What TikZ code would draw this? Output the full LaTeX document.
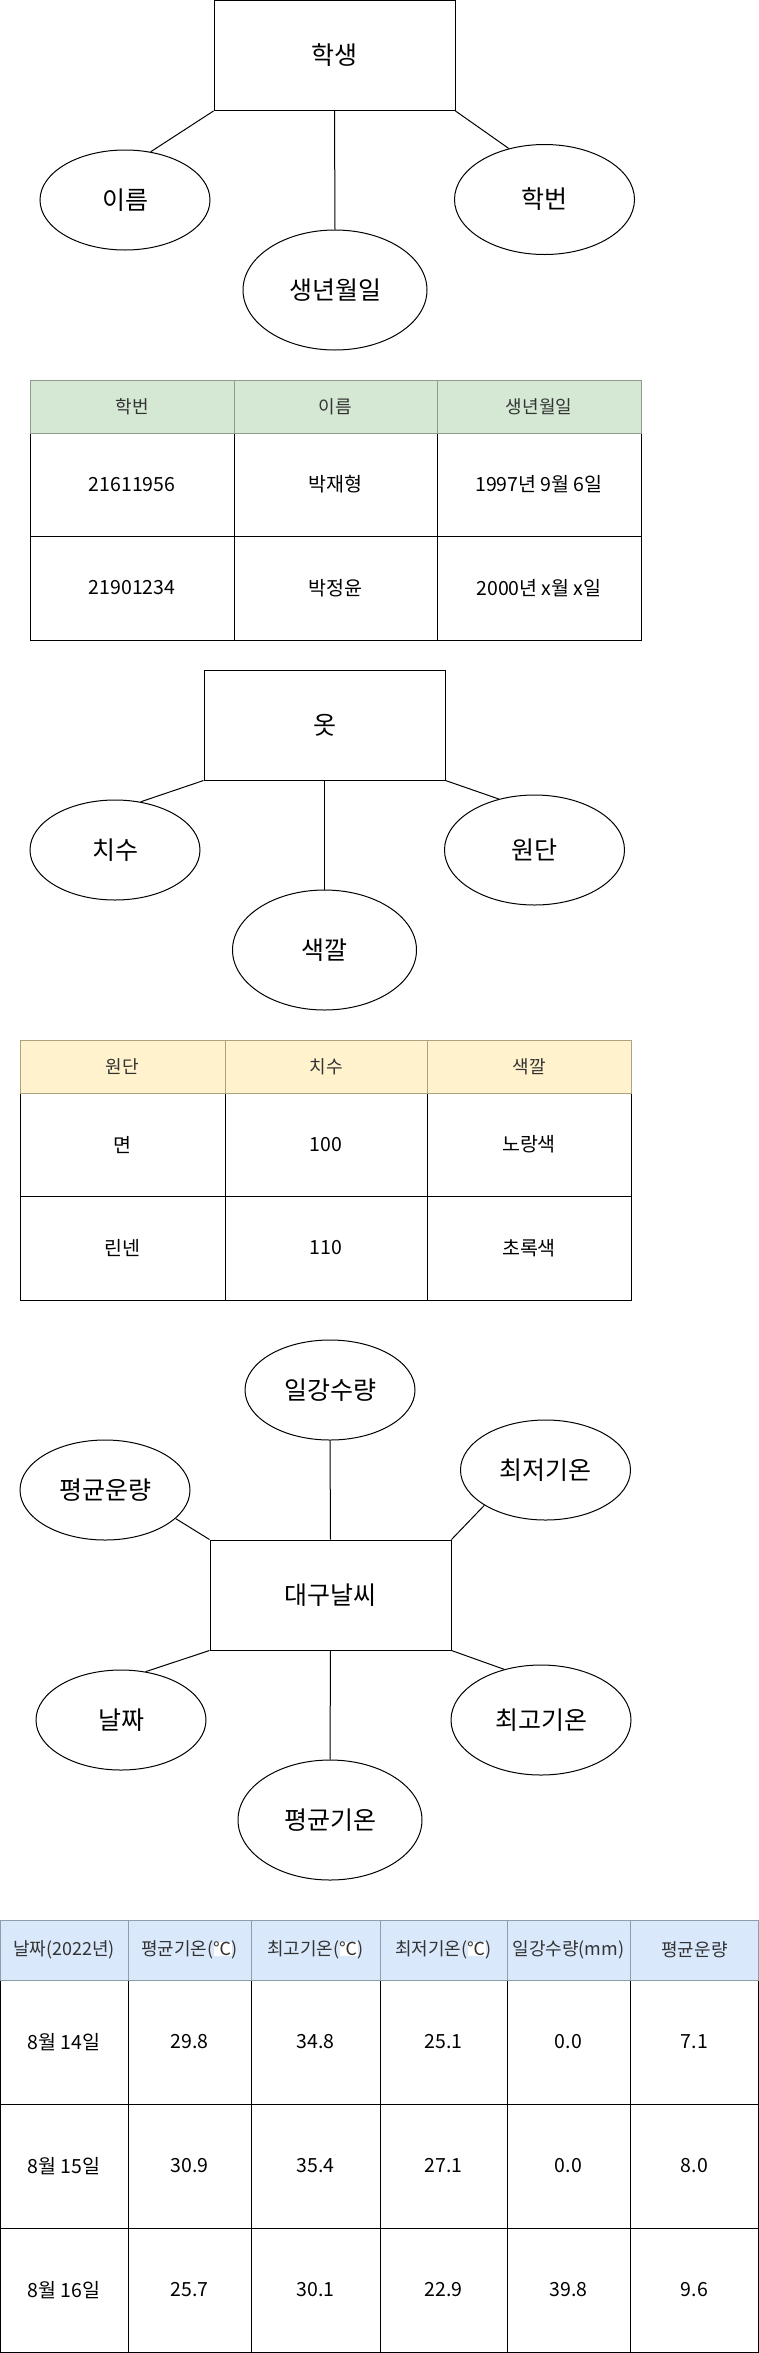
\documentclass[tikz,border=0pt]{standalone}
\usepackage{fontspec}
\usepackage{xcolor}
\usepackage{tikz}
\usetikzlibrary{shapes.geometric}
\setmainfont{Noto Sans CJK KR}
\definecolor{headgreen}{HTML}{D5E8D4}
\definecolor{headyellow}{HTML}{FFF2CC}
\definecolor{headblue}{HTML}{DAE8FC}
\definecolor{rulegreen}{HTML}{8F9E8C}
\definecolor{ruleyellow}{HTML}{ADA37F}
\definecolor{ruleblue}{HTML}{8F9CAB}
\newcommand{\whitedeg}{{\setlength{\fboxsep}{0pt}\colorbox{white}{℃}}}

\begin{document}
\begin{tikzpicture}[x=1pt, y=-1pt, line width=1pt,
    entity/.style={draw, rectangle, minimum width=241pt, minimum height=110pt, inner sep=0pt, font=\fontsize{25}{30}\selectfont},
    attr/.style={draw, ellipse, inner sep=0pt, minimum width=170pt, minimum height=100pt, font=\fontsize{25}{30}\selectfont},
    bigattr/.style={attr, minimum width=184pt, minimum height=120pt},
    midattr/.style={attr, minimum width=180pt, minimum height=110pt},
    head/.style={text=black!80, font=\fontsize{18}{22}\selectfont},
    cell/.style={font=\fontsize{19.5}{23}\selectfont},
    grid/.style={line width=1pt}]
    \useasboundingbox (0,0) rectangle (759,2353);

    % 학생
    \node[entity] (student) at (334.5,55.5) {학생};
    \node[attr] (name) at (125,200) {이름};
    \node[bigattr] (birth) at (335,290) {생년월일};
    \node[midattr] (sid) at (544.5,199.5) {학번};
    \draw (student.south west) -- (name.62);
    \draw (student.south) -- (birth.north);
    \draw (student.south east) -- (sid.125);

    % 학생 table
    \fill[headgreen] (30,380) rectangle (641,433);
    \draw[grid] (30,433) rectangle (641,640) (30,536) -- (641,536);
    \foreach \x in {234,437} \draw[grid] (\x,433) -- (\x,640);
    \draw[rulegreen] (30,380) rectangle (641,433);
    \foreach \x in {234,437} \draw[rulegreen] (\x,380) -- (\x,433);
    \foreach \i/\x/\txt in {1/132/학번, 2/335.5/이름, 3/539/생년월일}
        \node[head] (sh\i) at (\x,406.5) {\txt};
    \foreach \r/\y/\a/\b/\c in {1/484.5/21611956/박재형/1997년 9월 6일, 2/588/21901234/박정윤/2000년 x월 x일} {
        \node[cell] (s\r a) at (132,\y) {\a};
        \node[cell] (s\r b) at (335.5,\y) {\b};
        \node[cell] (s\r c) at (539,\y) {\c};
    }

    % 옷
    \node[entity] (clothes) at (324.5,725) {옷};
    \node[attr] (size) at (115,850) {치수};
    \node[bigattr] (color) at (324.5,950) {색깔};
    \node[midattr] (fabric) at (534.5,850) {원단};
    \draw (clothes.south west) -- (size.62);
    \draw (clothes.south) -- (color.north);
    \draw (clothes.south east) -- (fabric.125);

    % 옷 table
    \fill[headyellow] (20,1040) rectangle (631,1093);
    \draw[grid] (20,1093) rectangle (631,1300) (20,1196) -- (631,1196);
    \foreach \x in {225,427} \draw[grid] (\x,1093) -- (\x,1300);
    \draw[ruleyellow] (20,1040) rectangle (631,1093);
    \foreach \x in {225,427} \draw[ruleyellow] (\x,1040) -- (\x,1093);
    \foreach \i/\x/\txt in {1/122.5/원단, 2/326/치수, 3/529/색깔}
        \node[head] (ch\i) at (\x,1066.5) {\txt};
    \foreach \r/\y/\a/\b/\c in {1/1144.5/면/100/노랑색, 2/1248/린넨/110/초록색} {
        \node[cell] (c\r a) at (122.5,\y) {\a};
        \node[cell] (c\r b) at (326,\y) {\b};
        \node[cell] (c\r c) at (529,\y) {\c};
    }

    % 대구날씨
    \node[entity] (weather) at (330.5,1595) {대구날씨};
    \node[attr] (rain) at (330,1390) {일강수량};
    \node[attr] (cloud) at (105,1490) {평균운량};
    \node[attr] (tmin) at (545.5,1470) {최저기온};
    \node[attr] (date) at (121,1720) {날짜};
    \node[bigattr] (tavg) at (330,1820) {평균기온};
    \node[midattr] (tmax) at (541,1720) {최고기온};
    \draw (weather.north west) -- (cloud.-22);
    \draw (weather.north) -- (rain.south);
    \draw (weather.north east) -- (tmin.210);
    \draw (weather.south west) -- (date.63);
    \draw (weather.south) -- (tavg.north);
    \draw (weather.south east) -- (tmax.126);

    % 대구날씨 table
    \fill[headblue] (0.6,1920) rectangle (758.4,1980);
    \draw[grid] (0.6,1980) rectangle (758.4,2352.2);
    \foreach \y in {2104,2228} \draw[grid] (0.6,\y) -- (758.4,\y);
    \foreach \x in {128,251,380,507,630} \draw[grid] (\x,1980) -- (\x,2352.2);
    \draw[ruleblue] (0.6,1920) rectangle (758.4,1980);
    \foreach \x in {128,251,380,507,630} \draw[ruleblue] (\x,1920) -- (\x,1980);
    \foreach \i/\x/\txt in {1/64/날짜(2022년), 2/189.5/평균기온(\whitedeg), 3/315.5/최고기온(\whitedeg),
                            4/443.5/최저기온(\whitedeg), 5/568.5/일강수량(mm), 6/694.5/평균운량}
        \node[head] (wh\i) at (\x,1950) {\txt};
    \foreach \r/\y/\a/\b/\c/\d/\e/\f in {1/2042/8월 14일/29.8/34.8/25.1/0.0/7.1,
                                      2/2166/8월 15일/30.9/35.4/27.1/0.0/8.0,
                                      3/2290/8월 16일/25.7/30.1/22.9/39.8/9.6} {
        \node[cell] (w\r a) at (64,\y) {\a};
        \node[cell] (w\r b) at (189.5,\y) {\b};
        \node[cell] (w\r c) at (315.5,\y) {\c};
        \node[cell] (w\r d) at (443.5,\y) {\d};
        \node[cell] (w\r e) at (568.5,\y) {\e};
        \node[cell] (w\r f) at (694.5,\y) {\f};
    }
\end{tikzpicture}
\end{document}
